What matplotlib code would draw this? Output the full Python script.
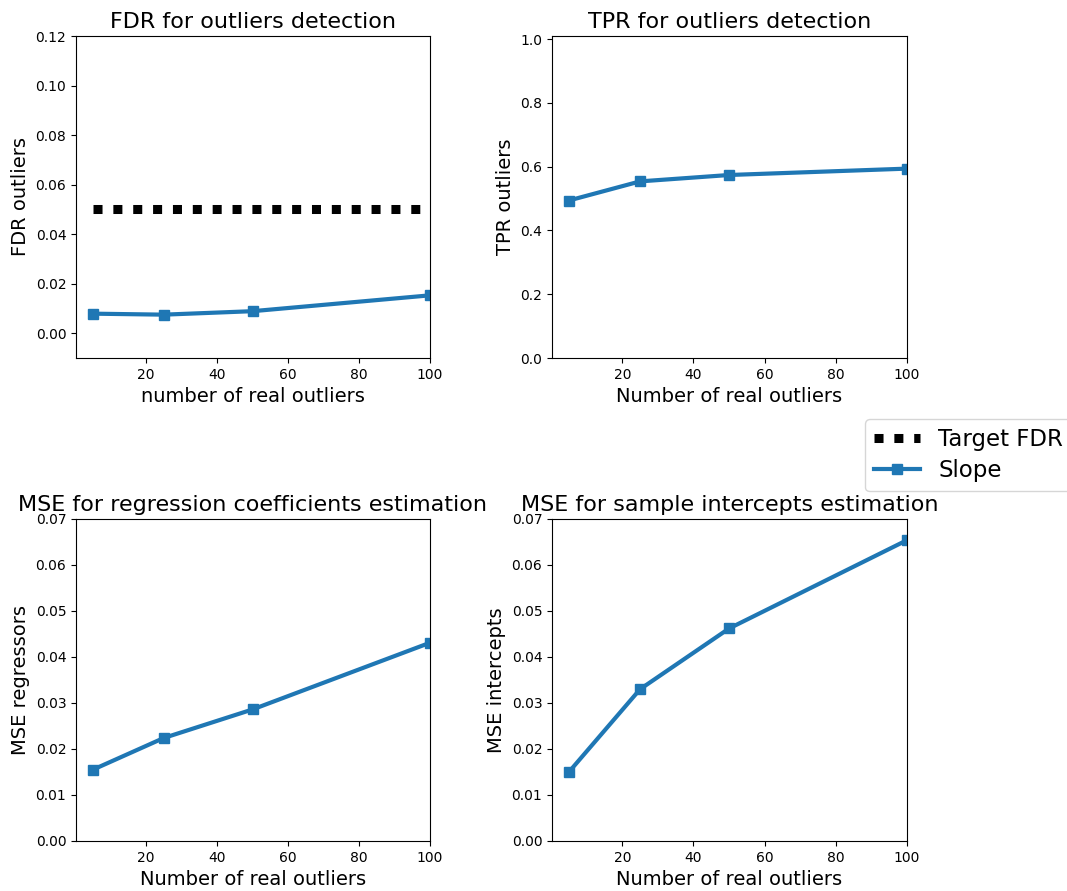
import numpy as np
import matplotlib
matplotlib.use('Agg')
import matplotlib.pyplot as plt

# number of real outliers
n_outliers = [5, 25, 50, 100]
target_fdr = 0.05

fdr_slope = [0.0079, 0.0075, 0.0089, 0.0153]
tpr_slope = [0.494, 0.554, 0.574, 0.594]
mse_regressors = [0.0155, 0.0224, 0.0286, 0.0431]
mse_intercepts = [0.0150, 0.0330, 0.0462, 0.0654]

blue = '#1f77b4'

fig = plt.figure(figsize=(10.67, 8.91), dpi=100)

l1, r1 = 76 / 1067, 430 / 1067
l2, r2 = 552 / 1067, 907 / 1067
t1, b1 = 1 - 36 / 891, 1 - 358 / 891
t2, b2 = 1 - 519 / 891, 1 - 841 / 891

ax1 = fig.add_axes([l1, b1, r1 - l1, t1 - b1])
ax2 = fig.add_axes([l2, b1, r2 - l2, t1 - b1])
ax3 = fig.add_axes([l1, b2, r1 - l1, t2 - b2])
ax4 = fig.add_axes([l2, b2, r2 - l2, t2 - b2])

line_kw = dict(color=blue, lw=3, marker='s', markersize=7)

#FDR
ax1.plot(n_outliers, [target_fdr] * len(n_outliers), color='black', lw=6.5,
         dashes=(1, 1.2), label='Target FDR')
ax1.plot(n_outliers, fdr_slope, label='Slope', **line_kw)
ax1.set_ylim(-0.01, 0.12)
ax1.set_title('FDR for outliers detection', fontsize=16)
ax1.set_xlabel('number of real outliers', fontsize=14)
ax1.set_ylabel('FDR outliers', fontsize=14)

#TPR
ax2.plot(n_outliers, tpr_slope, **line_kw)
ax2.set_ylim(0, 1.01)
ax2.set_title('TPR for outliers detection', fontsize=16)
ax2.set_xlabel('Number of real outliers', fontsize=14)
ax2.set_ylabel('TPR outliers', fontsize=14)

#MSE regressors
ax3.plot(n_outliers, mse_regressors, **line_kw)
ax3.set_ylim(0, 0.07)
ax3.set_title('MSE for regression coefficients estimation', fontsize=16)
ax3.set_xlabel('Number of real outliers', fontsize=14)
ax3.set_ylabel('MSE regressors', fontsize=14)

#MSE intercepts
ax4.plot(n_outliers, mse_intercepts, **line_kw)
ax4.set_ylim(0, 0.07)
ax4.set_title('MSE for sample intercepts estimation', fontsize=16)
ax4.set_xlabel('Number of real outliers', fontsize=14)
ax4.set_ylabel('MSE intercepts', fontsize=14)

for ax in [ax1, ax2, ax3, ax4]:
    ax.set_xlim(right=100)
    ax.tick_params(labelsize=10)
    ax.set_xticks([20, 40, 60, 80, 100])

handles, labels = ax1.get_legend_handles_labels()
fig.legend(handles, labels, loc='upper left', fontsize=16.5, borderaxespad=0,
           labelspacing=0.35, bbox_to_anchor=(865 / 1067, 1 - 419 / 891))

fig.savefig('out.png', dpi=100)
